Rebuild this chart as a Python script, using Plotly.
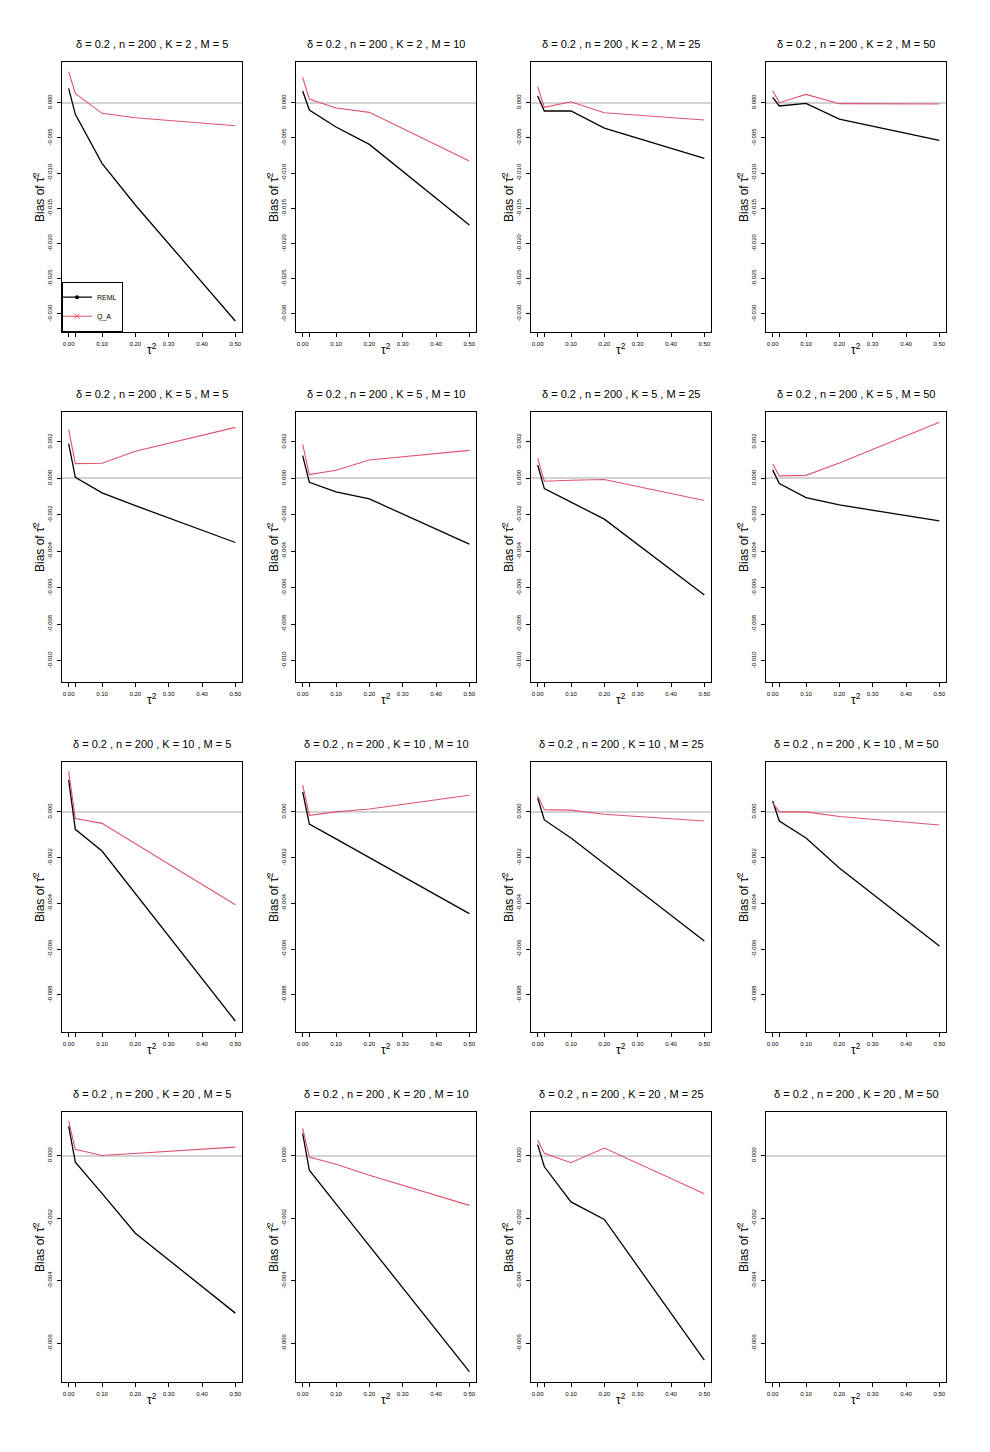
import plotly.graph_objects as go

# simulation grid
TAU2 = [0.0, 0.02, 0.10, 0.20, 0.50]
K_VALUES = [2, 5, 10, 20]
M_VALUES = [5, 10, 25, 50]

# bias of tau^2 estimate, one list per M (5, 10, 25, 50); None = not run
REML_K2 = [
    [0.00204, -0.00166, -0.00861, -0.01453, -0.03100],
    [0.00166, -0.00104, -0.00345, -0.00592, -0.01737],
    [0.00095, -0.00118, -0.00118, -0.00360, -0.00790],
    [0.00076, -0.00047, -0.00010, -0.00232, -0.00535],
]
QA_K2 = [
    [0.00440, 0.00133, -0.00151, -0.00213, -0.00327],
    [0.00360, 0.00052, -0.00076, -0.00137, -0.00828],
    [0.00227, -0.00066, 0.00014, -0.00142, -0.00246],
    [0.00170, 0.00000, 0.00118, -0.00014, -0.00019],
]
REML_K5 = [
    [0.00190, 0.00005, -0.00080, -0.00150, -0.00352],
    [0.00124, -0.00022, -0.00075, -0.00113, -0.00361],
    [0.00073, -0.00057, -0.00131, -0.00224, -0.00640],
    [0.00046, -0.00029, -0.00106, -0.00146, -0.00234],
]
QA_K5 = [
    [0.00266, 0.00080, 0.00082, 0.00148, 0.00279],
    [0.00186, 0.00020, 0.00044, 0.00100, 0.00153],
    [0.00110, -0.00016, -0.00011, -0.00007, -0.00122],
    [0.00078, 0.00013, 0.00016, 0.00084, 0.00307],
]
REML_K10 = [
    [0.00140, -0.00076, -0.00171, -0.00357, -0.00915],
    [0.00088, -0.00053, -0.00118, -0.00200, -0.00445],
    [0.00061, -0.00035, -0.00114, -0.00227, -0.00565],
    [0.00048, -0.00040, -0.00114, -0.00245, -0.00587],
]
QA_K10 = [
    [0.00178, -0.00029, -0.00050, -0.00139, -0.00406],
    [0.00117, -0.00015, 0.00000, 0.00013, 0.00073],
    [0.00070, 0.00010, 0.00008, -0.00010, -0.00040],
    [0.00040, 0.00000, 0.00000, -0.00020, -0.00057],
]
REML_K20 = [
    [0.00094, -0.00021, -0.00121, -0.00248, -0.00503],
    [0.00071, -0.00047, -0.00154, -0.00288, -0.00690],
    [0.00035, -0.00036, -0.00148, -0.00204, -0.00653],
    None,
]
QA_K20 = [
    [0.00110, 0.00020, 0.00000, 0.00007, 0.00027],
    [0.00087, -0.00005, -0.00028, -0.00063, -0.00159],
    [0.00049, 0.00007, -0.00023, 0.00024, -0.00122],
    None,
]

REML = [REML_K2, REML_K5, REML_K10, REML_K20]
QA = [QA_K2, QA_K5, QA_K10, QA_K20]

# y limits per row (K) and their tick marks
YLIM = [(-0.0311, 0.0044), (-0.0106, 0.0031), (-0.00918, 0.00176), (-0.0069, 0.00108)]
YTICKS = [
    [-0.030, -0.025, -0.020, -0.015, -0.010, -0.005, 0.000],
    [-0.010, -0.008, -0.006, -0.004, -0.002, 0.000, 0.002],
    [-0.008, -0.006, -0.004, -0.002, 0.000],
    [-0.006, -0.004, -0.002, 0.000],
]
XTICKS = [0.0, 0.1, 0.2, 0.3, 0.4, 0.5]
XTICK_LABELS = ["0.00", "0.10", "0.20", "0.30", "0.40", "0.50"]
XTICKS_UNLABELLED = [0.02]

RED = "#DF536B"
FONT = "Liberation Sans, Arial, Helvetica, sans-serif"

# page body has an 8px margin, so the figure is drawn 8px in from the corner
PAGE = 8
W, H = 990 - PAGE, 1452 - PAGE
COL_LEFT = [62 - PAGE, 296 - PAGE, 531 - PAGE, 766 - PAGE]
ROW_TOP = [61.7 - PAGE, 411.7 - PAGE, 761.7 - PAGE, 1111.7 - PAGE]
BOX_W, BOX_H = 180, 270


def px_x(v):
    return v / W


def px_y(v):
    return 1 - v / H


def expand(lo, hi, f=0.04):
    d = (hi - lo) * f
    return [lo - d, hi + d]


fig = go.Figure()
annotations = []

for r, k in enumerate(K_VALUES):
    for c, m in enumerate(M_VALUES):
        i = r * 4 + c + 1
        xa, ya = f"x{i}", f"y{i}"
        left, top = COL_LEFT[c], ROW_TOP[r]

        reml = REML[r][c]
        qa = QA[r][c]
        if reml is None:
            # empty panel: still needs a trace so the axes get drawn
            fig.add_trace(go.Scatter(x=[None], y=[None], xaxis=xa, yaxis=ya,
                                     showlegend=False, hoverinfo="skip"))
        else:
            fig.add_trace(go.Scatter(x=TAU2, y=reml, mode="lines", xaxis=xa, yaxis=ya,
                                     line=dict(color="black", width=1.3), showlegend=False))
        if qa is not None:
            fig.add_trace(go.Scatter(x=TAU2, y=qa, mode="lines", xaxis=xa, yaxis=ya,
                                     line=dict(color=RED, width=1.1), showlegend=False))

        fig.update_layout({
            f"xaxis{i}": dict(
                domain=[px_x(left), px_x(left + BOX_W)], anchor=ya,
                range=expand(0, 0.5), tickvals=XTICKS, ticktext=XTICK_LABELS,
                ticks="outside", ticklen=4, tickcolor="black", showgrid=False,
                minor=dict(tickmode="array", tickvals=XTICKS_UNLABELLED, ticks="outside",
                           ticklen=4, tickcolor="black", showgrid=False),
                zeroline=False, showline=True, mirror=True, linecolor="black",
                linewidth=1, tickfont=dict(size=6, color="black"),
                ticklabelstandoff=2, fixedrange=True,
            ),
            f"yaxis{i}": dict(
                domain=[px_y(top + BOX_H), px_y(top)], anchor=xa,
                range=expand(*YLIM[r]), tickvals=YTICKS[r],
                ticktext=[f"{v:.3f}" for v in YTICKS[r]], tickangle=-90,
                ticks="outside", ticklen=4, tickcolor="black", showgrid=False,
                zeroline=True, zerolinecolor="#D3D3D3", zerolinewidth=2,
                showline=True, mirror=True, linecolor="black", linewidth=1,
                tickfont=dict(size=6, color="black"), ticklabelstandoff=3,
                fixedrange=True,
            ),
        })

        annotations.append(dict(
            text=f"δ = 0.2 , n = 200 , K = {k} , M = {m}",
            x=px_x(left + BOX_W / 2), y=px_y(top - 17.7), xref="paper", yref="paper",
            showarrow=False, xanchor="center", yanchor="middle", font=dict(size=11),
        ))
        annotations.append(dict(
            text="Bias of τ̂<sup>2</sup>", textangle=-90,
            x=px_x(left - 23.7), y=px_y(top + BOX_H / 2), xref="paper", yref="paper",
            showarrow=False, xanchor="center", yanchor="middle", font=dict(size=12),
        ))
        annotations.append(dict(
            text="τ<sup>2</sup>",
            x=px_x(left + BOX_W / 2), y=px_y(top + BOX_H + 17.3), xref="paper", yref="paper",
            showarrow=False, xanchor="center", yanchor="middle", font=dict(size=12),
        ))

# legend entries for the first panel
fig.add_trace(go.Scatter(x=[None], y=[None], mode="lines+markers", name="REML",
                         line=dict(color="black", width=1.3),
                         marker=dict(symbol="circle", size=4, color="black")))
fig.add_trace(go.Scatter(x=[None], y=[None], mode="lines+markers", name="Q_A",
                         line=dict(color=RED, width=1.1),
                         marker=dict(symbol="x-thin", size=5, line=dict(color=RED, width=1))))

fig.update_layout(
    width=W, height=H,
    margin=dict(l=0, r=0, t=0, b=0),
    paper_bgcolor="white", plot_bgcolor="white",
    font=dict(family=FONT, color="black"),
    annotations=annotations,
    showlegend=True,
    legend=dict(
        x=px_x(COL_LEFT[0]), y=px_y(ROW_TOP[0] + BOX_H), xanchor="left", yanchor="bottom",
        bordercolor="black", borderwidth=1, bgcolor="white",
        font=dict(size=7, color="black"), itemwidth=30, tracegroupgap=0, indentation=-6,
    ),
)

fig.write_html("out.html")
